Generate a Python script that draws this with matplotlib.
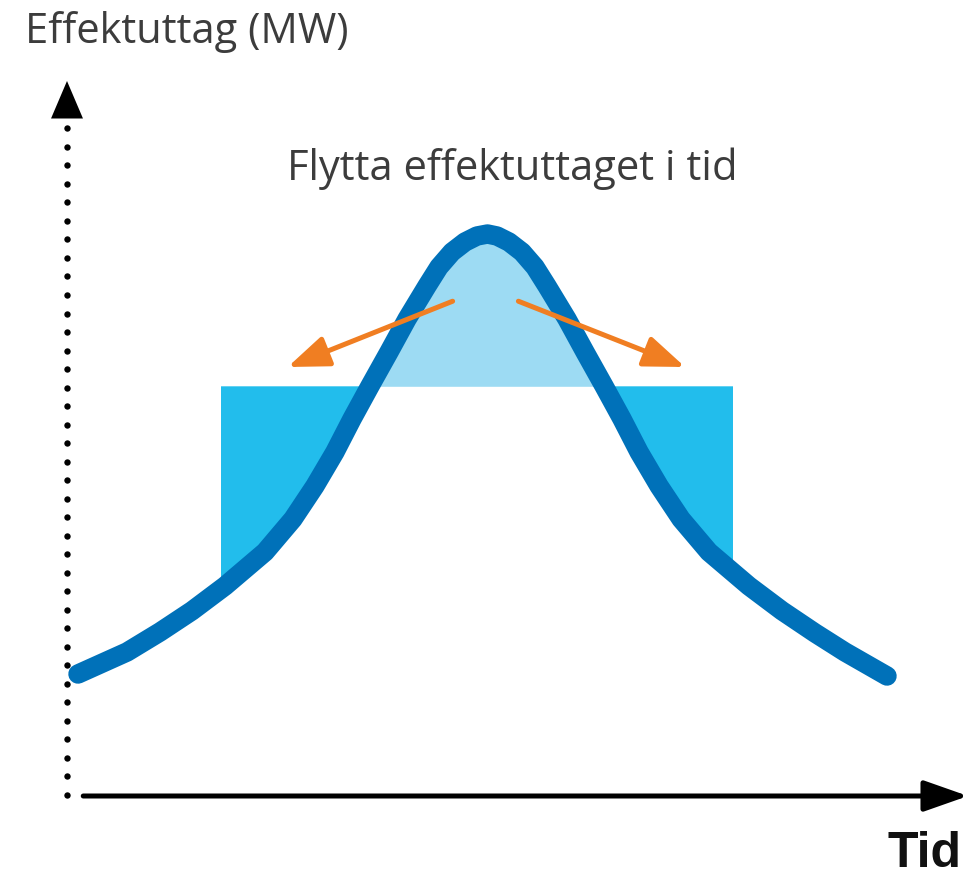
import numpy as np
import matplotlib
matplotlib.use("Agg")
import matplotlib.pyplot as plt
from matplotlib.patches import Rectangle

# ---- data (time in % of period, power in % of axis height) ----
time_pts = [1.22, 6.66, 10.32, 13.87, 17.54, 21.98, 25.08, 27.52, 29.74, 31.63,
            33.63, 35.74, 37.74, 39.96, 41.29, 42.73, 44.17, 45.50, 46.67,
            47.73, 49.06, 50.50, 51.94, 53.27, 55.49, 57.49, 59.60, 61.60,
            63.49, 65.71, 68.15, 71.25, 75.69, 79.36, 83.02, 86.35, 91.01]
power_pts = [17.06, 20.14, 22.94, 25.90, 29.37, 34.13, 38.74, 43.36, 48.11, 52.73,
             57.34, 62.10, 66.71, 71.33, 73.99, 76.08, 77.48, 78.32, 78.60,
             78.32, 77.48, 76.08, 73.99, 71.33, 66.71, 62.10, 57.34, 52.73,
             48.11, 43.36, 38.74, 34.13, 29.37, 25.90, 22.80, 20.14, 16.78]
flat_level = 57.3          # target (shaved) power level
flat_start, flat_end = 17.1, 73.9   # period over which load is moved
# arrows: (start time, start power, end time, end power)
arrow_left = (42.8, 69.2, 24.5, 60.0)
arrow_right = (50.1, 69.2, 68.6, 60.0)

y_label = "Effektuttag (MW)"
x_label = "Tid"
title = "Flytta effektuttaget i tid"

# ---- colours ----
c_curve = "#0071B9"
c_fill = "#22BDEC"
c_peak = "#9DDBF3"
c_orange = "#F07E22"
c_text = "#3C3C3C"

W, H = 980, 879
fig = plt.figure(figsize=(W / 100, H / 100), dpi=100)
ax = fig.add_axes([67 / W, (H - 797) / H, (968 - 67) / W, (797 - 82) / H])
ax.set_xlim(0, 100)
ax.set_ylim(0, 100)
ax.axis("off")

t = np.array(time_pts)
p = np.array(power_pts)

# moved load (below the level, inside period)
fb = ax.fill_between(t, p, flat_level, where=p <= flat_level, interpolate=True,
                     color=c_fill, lw=0, zorder=1)
clip = Rectangle((flat_start, 0), flat_end - flat_start, 100, transform=ax.transData)
fb.set_clip_path(clip)
# peak to shave
ax.fill_between(t, p, flat_level, where=p >= flat_level, interpolate=True,
                color=c_peak, lw=0, zorder=1)

# load curve
ax.plot(t, p, color=c_curve, lw=14, solid_capstyle="round",
        solid_joinstyle="round", zorder=3)

# orange arrows
for (x0, y0, x1, y1) in (arrow_left, arrow_right):
    ax.annotate("", xy=(x1, y1), xytext=(x0, y0),
                arrowprops=dict(arrowstyle="-|>,head_length=2.5,head_width=0.95",
                                mutation_scale=10, color=c_orange, lw=3.6,
                                shrinkA=0, shrinkB=0, capstyle="round"),
                zorder=4)

# x axis (solid with arrow)
ax.annotate("", xy=(100, 0), xytext=(1.8, 0),
            arrowprops=dict(arrowstyle="-|>,head_length=2.7,head_width=0.95",
                            mutation_scale=10, color="black", lw=3.6,
                            shrinkA=0, shrinkB=0),
            annotation_clip=False, zorder=5)

# y axis (dotted with arrow)
dots = np.arange(0.14, 94.0, 2.59)
ax.plot(np.zeros_like(dots), dots, ls="none", marker="o", ms=4.6,
        color="black", mec="none", clip_on=False, zorder=5)
ax.annotate("", xy=(0, 100), xytext=(0, 94.7),
            arrowprops=dict(arrowstyle="-|>,head_length=2.7,head_width=1.15",
                            mutation_scale=10, color="black", lw=0,
                            shrinkA=0, shrinkB=0),
            annotation_clip=False, zorder=5)

# texts
fig.text(25 / W, 1 - 43 / H, y_label, family="Open Sans", fontsize=30,
         color=c_text, ha="left", va="baseline")
fig.text(287 / W, 1 - 180 / H, title, family="Open Sans", fontsize=30,
         color=c_text, ha="left", va="baseline")
fig.text(887 / W, 1 - 867 / H, x_label, family="Liberation Sans",
         fontweight="bold", fontsize=36, color="#111111", ha="left",
         va="baseline")

fig.savefig("out.png", dpi=100, facecolor="white")
